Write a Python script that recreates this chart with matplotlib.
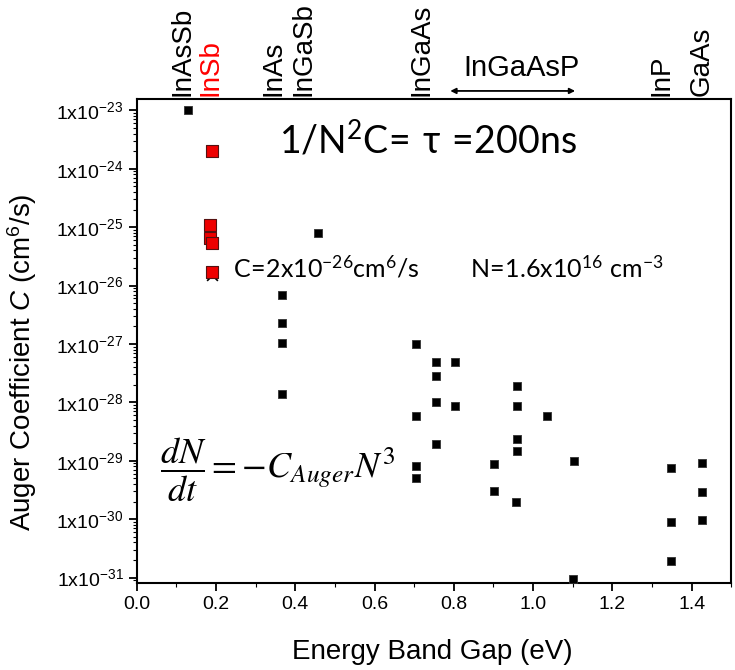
import math

import matplotlib
matplotlib.use("Agg")
import matplotlib.pyplot as plt
from matplotlib.ticker import FixedLocator, LogLocator, MultipleLocator, FuncFormatter, NullFormatter

plt.rcParams["font.family"] = ["Liberation Sans", "DejaVu Sans"]
plt.rcParams["mathtext.fontset"] = "custom"
plt.rcParams["mathtext.rm"] = "Liberation Sans"
plt.rcParams["mathtext.it"] = "Liberation Sans:italic"
plt.rcParams["mathtext.bf"] = "Liberation Sans:bold"

# measured Auger coefficients (black) and InSb (red)
black_gap = [0.13, 0.366, 0.366, 0.366, 0.366, 0.458,
             0.705, 0.705, 0.705, 0.705, 0.756, 0.756, 0.756, 0.756, 0.804, 0.804,
             0.901, 0.901, 0.96, 0.96, 0.96, 0.96, 0.958, 1.036, 1.103, 1.10,
             1.348, 1.348, 1.348, 1.425, 1.425, 1.425]
black_C = [1e-23, 7e-27, 2.3e-27, 1.05e-27, 1.4e-28, 7.9e-26,
           1e-27, 5.9e-29, 8.3e-30, 5e-30, 4.9e-28, 2.8e-28, 1.0e-28, 1.95e-29, 4.9e-28, 8.7e-29,
           8.9e-30, 3e-30, 1.9e-28, 8.5e-29, 2.4e-29, 1.45e-29, 1.95e-30, 5.8e-29, 9.8e-30, 9.3e-32,
           7.4e-30, 8.9e-31, 1.9e-31, 9.3e-30, 2.9e-30, 9.6e-31]
red_gap = [0.189, 0.186, 0.186, 0.19, 0.19]
red_C = [2e-24, 1.1e-25, 6.4e-26, 5.4e-26, 1.7e-26]

materials = ["InAsSb", "InSb", "InAs", "InGaSb", "InGaAs", "InP", "GaAs"]
material_gap = [0.116, 0.187, 0.344, 0.42, 0.718, 1.325, 1.426]
material_color = ["black", "red", "black", "black", "black", "black", "black"]

xticks = [0.0, 0.2, 0.4, 0.6, 0.8, 1.0, 1.2, 1.4]
ydecades = list(range(-31, -22))

fig = plt.figure(figsize=(7.35, 6.7), dpi=100)
ax = fig.add_axes([0.186, 0.130, 0.809, 0.722])

ax.set_yscale("log")
ax.scatter(red_gap[-1:], [1.5e-26], marker="x", s=60, c="black", lw=1.2, zorder=2)
ax.scatter(black_gap, black_C, marker="s", s=40, c="black", edgecolors="#333333", lw=0.6, zorder=3)
ax.scatter(red_gap, red_C, marker="s", s=85, c="#ee0000", edgecolors="#551111", lw=0.8, zorder=4)

ax.set_xlim(0, 1.5)
ax.set_ylim(10 ** -31.09, 10 ** -22.81)
ax.xaxis.set_major_locator(FixedLocator(xticks))
ax.xaxis.set_minor_locator(MultipleLocator(0.1))
ax.xaxis.set_major_formatter(FuncFormatter(lambda v, p: f"{v:.1f}"))
ax.yaxis.set_major_locator(FixedLocator([10.0 ** d for d in ydecades]))
ax.yaxis.set_minor_locator(LogLocator(base=10, subs=range(2, 10), numticks=20))
ax.yaxis.set_minor_formatter(NullFormatter())
ax.yaxis.set_major_formatter(FuncFormatter(
    lambda v, p: r"$\mathregular{1x10^{%d}}$" % round(math.log10(v))))
ax.tick_params(which="major", direction="out", length=6, width=1.3, labelsize=14)
ax.tick_params(which="minor", direction="out", length=3, width=0.8)
for s in ax.spines.values():
    s.set_linewidth(1.5)

ax.set_xlabel("Energy Band Gap (eV)", fontsize=20)
ax.xaxis.set_label_coords(0.497, -0.115)
ax.set_ylabel(r"Auger Coefficient $\mathit{C}$ (cm$^6$/s)", fontsize=20)
ax.yaxis.set_label_coords(-0.165, 0.457)

# material labels above the frame
for name, g, col in zip(materials, material_gap, material_color):
    ax.text(g, 1.006, name, transform=ax.get_xaxis_transform(), rotation=90,
            ha="center", va="bottom", fontsize=20, color=col)
ax.text(0.971, 1.065, "InGaAsP", transform=ax.get_xaxis_transform(),
        ha="center", va="center", fontsize=21)
ax.annotate("", xy=(0.784, 1.017), xytext=(1.113, 1.017), xycoords=ax.get_xaxis_transform(),
            arrowprops=dict(arrowstyle="<|-|>", lw=1.3, color="black", mutation_scale=8),
            annotation_clip=False)

# annotations
ax.text(0.49, 0.915, r"$\mathregular{1/N^2C\!=\!\ \tau\ \!=\!200ns}$", transform=ax.transAxes,
        ha="center", va="center", fontsize=27, family="Lato")
ax.text(0.162, 0.651, r"$\mathregular{C\!=\!2x10^{-26}cm^6/s}$", transform=ax.transAxes,
        ha="left", va="center", fontsize=18, family="Lato")
ax.text(0.561, 0.651, r"$\mathregular{N\!=\!1.6x10^{16}\ cm^{-3}}$", transform=ax.transAxes,
        ha="left", va="center", fontsize=18, family="Lato")
ax.text(0.039, 0.233, r"$\dfrac{dN}{dt}=-C_{Auger}N^3$", transform=ax.transAxes,
        ha="left", va="center", fontsize=26, math_fontfamily="stix")

fig.savefig("out.png", dpi=100)
